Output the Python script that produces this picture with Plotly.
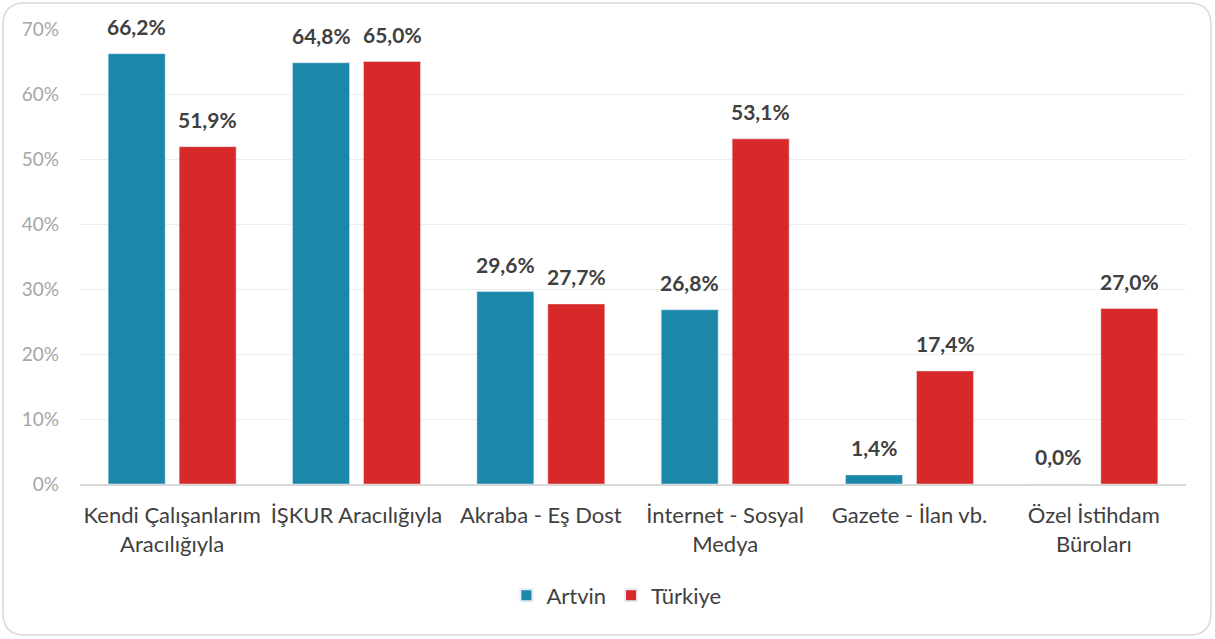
import plotly.graph_objects as go

categories = ["Kendi Çalışanlarım<br>Aracılığıyla", "İŞKUR Aracılığıyla", "Akraba - Eş Dost",
              "İnternet - Sosyal<br>Medya", "Gazete - İlan vb.", "Özel İstihdam<br>Büroları"]
artvin = [66.2, 64.8, 29.6, 26.8, 1.4, 0.0]
turkiye = [51.9, 65.0, 27.7, 53.1, 17.4, 27.0]
tick_vals = [0, 10, 20, 30, 40, 50, 60, 70]
tick_text = ["0%", "10%", "20%", "30%", "40%", "50%", "60%", "70%"]

W, H = 1215, 639
FONT = "Lato"

fig = go.Figure()
fig.add_bar(x=categories, y=artvin, name="Artvin", marker_color="#1B88AA")
fig.add_bar(x=categories, y=turkiye, name="Türkiye", marker_color="#D7282A")

# value labels above bars
for series, shift in ((artvin, -35.5), (turkiye, 35.5)):
    for cat, val in zip(categories, series):
        fig.add_annotation(x=cat, y=val, text=f"{val:.1f}%".replace(".", ","),
                           showarrow=False, xshift=shift, yshift=13, yanchor="bottom",
                           font=dict(family=FONT, size=21, color="#404040", weight="bold"))

ml, mr, mt, mb = 80, 29, 29, 155
pw, ph = W - ml - mr, H - mt - mb
def px(x): return (x - ml) / pw
def py(y): return 1 - (y - mt) / ph
x0, y0, x1, y1, r = 3, 3, 1211, 635, 22
path = (f"M {px(x0+r)},{py(y0)} L {px(x1-r)},{py(y0)} "
        f"Q {px(x1)},{py(y0)} {px(x1)},{py(y0+r)} L {px(x1)},{py(y1-r)} "
        f"Q {px(x1)},{py(y1)} {px(x1-r)},{py(y1)} L {px(x0+r)},{py(y1)} "
        f"Q {px(x0)},{py(y1)} {px(x0)},{py(y1-r)} L {px(x0)},{py(y0+r)} "
        f"Q {px(x0)},{py(y0)} {px(x0+r)},{py(y0)} Z")

fig.update_layout(
    width=W, height=H,
    margin=dict(l=ml, r=mr, t=mt, b=mb),
    paper_bgcolor="white", plot_bgcolor="white",
    separators=",.",
    barmode="group", bargap=0.23, bargroupgap=0.197,
    font=dict(family=FONT, color="#404040"),
    legend=dict(orientation="h", x=0.485, xanchor="center", y=-0.245, yanchor="middle",
                font=dict(size=22, color="#404040"), itemsizing="constant",
                traceorder="normal"),
    shapes=[dict(type="path", path=path, xref="paper", yref="paper",
                 line=dict(color="#D9D9D9", width=1.5), layer="below")],
    xaxis=dict(tickfont=dict(size=22, color="#404040"), showgrid=False,
               showline=True, linecolor="#D9D9D9", linewidth=2, ticks="",
               ticklabelstandoff=11),
    yaxis=dict(range=[0, 70], tickvals=tick_vals, ticktext=tick_text,
               tickfont=dict(size=19, color="#A6A6A6"), showgrid=True,
               gridcolor="#EDEDED", gridwidth=1, zeroline=False, ticklen=0,
               ticks="", ticklabelstandoff=20),
)
fig.write_html("out.html", config={"displayModeBar": False},
               post_script="document.body.style.margin='0';document.body.style.padding='0';")
